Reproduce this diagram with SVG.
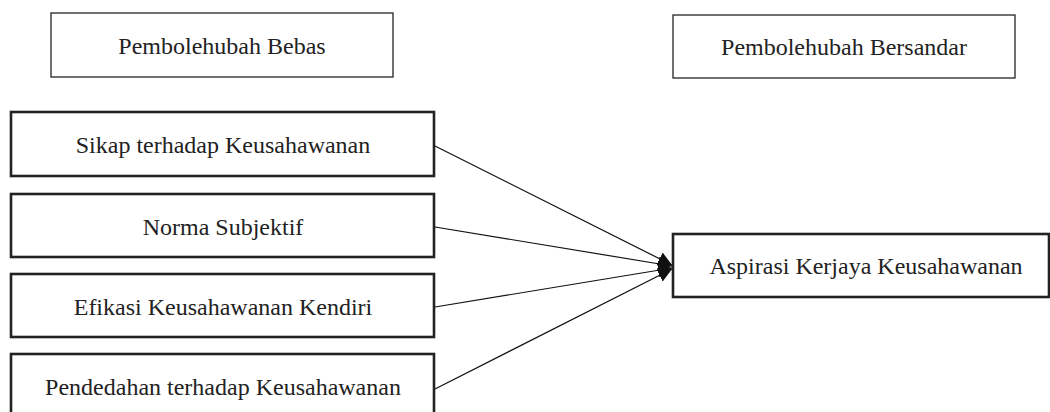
<svg xmlns="http://www.w3.org/2000/svg" width="1050" height="412" viewBox="0 0 1050 412">
<style>
.thin{fill:#fff;stroke:#222;stroke-width:1.3}
.thick{fill:#fff;stroke:#222;stroke-width:2.6}
text{font-family:"Liberation Serif","Times New Roman",serif;font-size:24px;fill:#222;text-anchor:middle}
.conn{stroke:#111;stroke-width:1.2;fill:none;marker-end:url(#ah)}
</style>
<defs>
<marker id="ah" viewBox="0 0 10 10" refX="10" refY="5" markerWidth="14" markerHeight="14" markerUnits="userSpaceOnUse" orient="auto">
<path d="M0,0 L10,5 L0,10 z" fill="#111"/>
</marker>
</defs>
<g id="n-bebas"><rect class="thin" x="51" y="13" width="342" height="64"/><text x="222" y="54">Pembolehubah Bebas</text></g>
<g id="n-bersandar"><rect class="thin" x="673" y="15" width="342" height="63"/><text x="844" y="55">Pembolehubah Bersandar</text></g>
<g id="n-sikap"><rect class="thick" x="11" y="112" width="423" height="64"/><text x="223" y="153">Sikap terhadap Keusahawanan</text></g>
<g id="n-norma"><rect class="thick" x="11" y="194" width="423" height="63"/><text x="223" y="235">Norma Subjektif</text></g>
<g id="n-efikasi"><rect class="thick" x="11" y="274" width="423" height="63"/><text x="223" y="315">Efikasi Keusahawanan Kendiri</text></g>
<g id="n-pendedahan"><rect class="thick" x="11" y="354" width="423" height="64"/><text x="223" y="395">Pendedahan terhadap Keusahawanan</text></g>
<g id="n-aspirasi"><rect class="thick" x="673" y="234" width="376" height="63"/><text x="866" y="274">Aspirasi Kerjaya Keusahawanan</text></g>
<g id="connectors">
<line class="conn" x1="435" y1="146" x2="672" y2="265"/>
<line class="conn" x1="435" y1="227" x2="672" y2="266"/>
<line class="conn" x1="435" y1="307" x2="672" y2="268"/>
<line class="conn" x1="435" y1="389" x2="672" y2="269"/>
</g>
</svg>
